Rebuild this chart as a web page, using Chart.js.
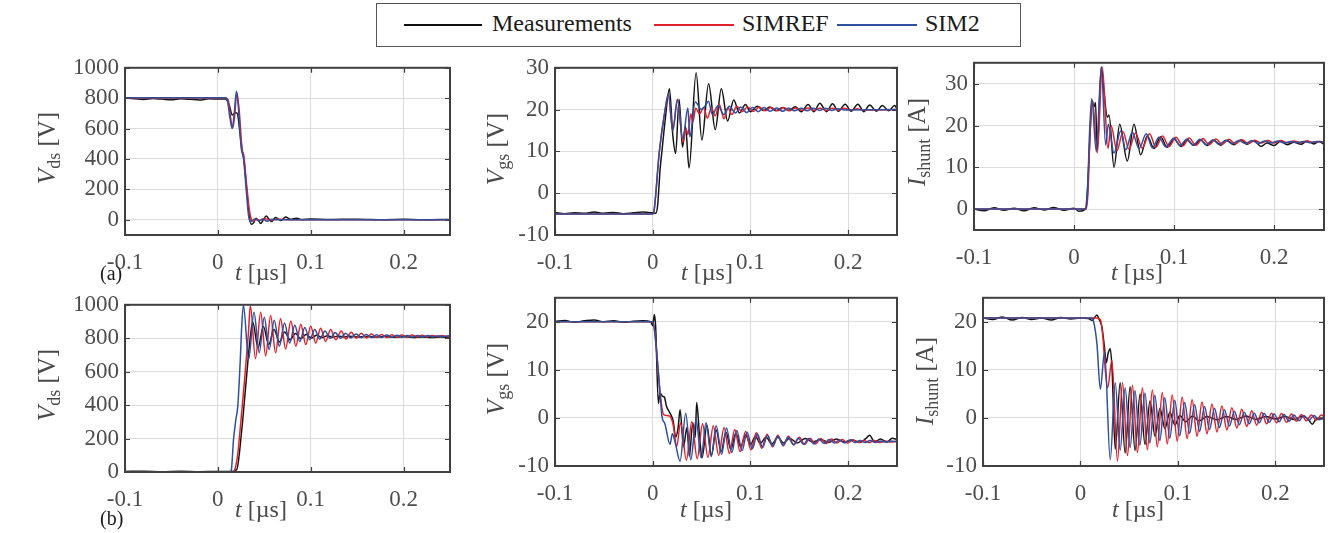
<!DOCTYPE html>
<html>
<head>
<meta charset="utf-8">
<script src="https://cdn.jsdelivr.net/npm/chart.js@4.4.0/dist/chart.umd.min.js"></script>
<style>
  body { margin: 0; width: 1332px; height: 533px; background: #fff; position: relative; overflow: hidden; font-family: "Liberation Serif", "Times New Roman", serif; }
  canvas { position: absolute; }
  #legend { position: absolute; left: 376px; top: 3px; width: 643px; height: 42px; border: 1px solid #555; }
  .swatch { position: absolute; height: 2px; top: 24px; }
  .lbl { position: absolute; top: 10px; font-size: 24px; line-height: 26px; color: #1a1a1a; }
  .xlab { position: absolute; font-size: 24px; line-height: 24px; color: #4a4a4a; transform: translateX(-50%); white-space: nowrap; }
  .ylab { position: absolute; font-size: 25px; line-height: 25px; color: #4a4a4a; transform: translate(-50%, -50%) rotate(-90deg); white-space: nowrap; }
  .sub { font-size: 18px; position: relative; top: 5px; line-height: 0; }
  .tag { position: absolute; font-size: 20px; line-height: 20px; color: #1a1a1a; }
</style>
</head>
<body>
<div id="legend"></div>
<div class="swatch" style="left:404px; width:78px; background:#111;"></div>
<div class="lbl" style="left:492px;">Measurements</div>
<div class="swatch" style="left:654px; width:80px; background:#e3202a;"></div>
<div class="lbl" style="left:742px;">SIMREF</div>
<div class="swatch" style="left:837px; width:80px; background:#2f4f9f;"></div>
<div class="lbl" style="left:925px;">SIM2</div>

<canvas id="a1"></canvas><canvas id="a2"></canvas><canvas id="a3"></canvas>
<canvas id="b1"></canvas><canvas id="b2"></canvas><canvas id="b3"></canvas>

<div class="xlab" style="left:261px; top:260px;"><i>t</i> [µs]</div>
<div class="xlab" style="left:707px; top:260px;"><i>t</i> [µs]</div>
<div class="xlab" style="left:1137px; top:260px;"><i>t</i> [µs]</div>
<div class="xlab" style="left:261px; top:497px;"><i>t</i> [µs]</div>
<div class="xlab" style="left:706px; top:497px;"><i>t</i> [µs]</div>
<div class="xlab" style="left:1138px; top:497px;"><i>t</i> [µs]</div>

<div class="ylab" style="left:46px; top:148px;"><i>V</i><span class="sub">ds</span> [V]</div>
<div class="ylab" style="left:495px; top:149px;"><i>V</i><span class="sub">gs</span> [V]</div>
<div class="ylab" style="left:916px; top:142px;"><i>I</i><span class="sub">shunt</span> [A]</div>
<div class="ylab" style="left:46px; top:385px;"><i>V</i><span class="sub">ds</span> [V]</div>
<div class="ylab" style="left:495px; top:379px;"><i>V</i><span class="sub">gs</span> [V]</div>
<div class="ylab" style="left:924px; top:381px;"><i>I</i><span class="sub">shunt</span> [A]</div>

<div class="tag" style="left:100px; top:263px;">(a)</div>
<div class="tag" style="left:100px; top:508px;">(b)</div>

<script>
// tick values
const tTicks = [-0.1, 0, 0.1, 0.2];
const vdsTicks = [0, 200, 400, 600, 800, 1000];
const vgsTicksA = [-10, 0, 10, 20, 30];
const ishTicksA = [0, 10, 20, 30];
const vgsTicksB = [-10, 0, 10, 20];
const ishTicksB = [-10, 0, 10, 20];

// (a) turn-off Vds  [t in us, value]
const measA_vds = [[-0.1,800],[-0.09,797],[-0.08,792],[-0.07,798],[-0.06,794],[-0.05,789],[-0.04,796],[-0.03,793],[-0.02,788],[-0.01,796],[0,795],[0.008,795],[0.012,760],[0.0155,690],[0.019,705],[0.021,700],[0.024,560],[0.0265,440],[0.028,400],[0.031,200],[0.034,20],[0.036,-30],[0.039,-15],[0.041,10],[0.044,-5],[0.046,-25],[0.049,0],[0.052,25],[0.055,5],[0.058,-12],[0.062,15],[0.065,5],[0.068,-5],[0.073,18],[0.078,3],[0.085,10],[0.09,2],[0.1,5],[0.12,2],[0.15,4],[0.18,1],[0.2,3],[0.22,0],[0.25,2]];
const simrefA_vds = [[-0.1,802],[0.008,802],[0.011,790],[0.0135,680],[0.016,605],[0.018,680],[0.0205,835],[0.023,720],[0.026,470],[0.028,420],[0.031,230],[0.034,60],[0.036,5],[0.038,-10],[0.041,5],[0.045,-5],[0.05,8],[0.056,-3],[0.065,3],[0.08,0],[0.25,0]];
const sim2A_vds = [[-0.1,803],[0.008,803],[0.0105,780],[0.013,670],[0.0155,600],[0.0175,690],[0.02,845],[0.0225,710],[0.025,480],[0.0275,410],[0.0305,200],[0.033,30],[0.035,-15],[0.037,-5],[0.04,5],[0.044,-8],[0.048,5],[0.053,-10],[0.058,3],[0.065,0],[0.25,0]];

// (a) turn-off Vgs
const measA_vgs = [[-0.1,-4.6],[-0.09,-4.9],[-0.08,-4.7],[-0.07,-4.8],[-0.06,-4.5],[-0.05,-4.8],[-0.04,-4.6],[-0.03,-4.9],[-0.02,-4.7],[-0.01,-4.5],[0,-4.7],[0.003,-4.8],[0.005,-3],[0.0076,5.8],[0.0093,9.7],[0.0127,17.4],[0.0171,25],[0.0205,14],[0.0235,9.5],[0.027,22.5],[0.0305,11],[0.0335,16],[0.0372,6],[0.0444,28.8],[0.0503,12.7],[0.0572,26.2],[0.064,15.2],[0.0702,25],[0.0767,17.3],[0.0829,22.3],[0.0887,19.2],[0.0949,21.2],[0.1,19.5],[0.107,20.8],[0.113,19.8],[0.12,20.6],[0.126,19.7],[0.133,20.5],[0.139,19.8],[0.146,20.7],[0.152,19.5],[0.159,21.2],[0.165,19.5],[0.171,21.5],[0.178,19.5],[0.184,21.4],[0.19,19.6],[0.197,21.3],[0.203,19.6],[0.21,21.3],[0.216,19.5],[0.222,21.1],[0.229,19.6],[0.235,21],[0.2415,19.7],[0.2475,21],[0.25,20.2]];
const simrefA_vgs = [[-0.1,-5],[0,-5],[0.0015,-4],[0.0068,10],[0.0127,20],[0.016,23.5],[0.0205,15],[0.0253,22.5],[0.031,12.2],[0.034,15.5],[0.036,14],[0.039,19],[0.041,17],[0.044,20.3],[0.048,19],[0.052,20.5],[0.056,18],[0.06,20.4],[0.064,18.5],[0.068,21.3],[0.073,17.8],[0.077,20.5],[0.081,18.8],[0.086,20.8],[0.091,19.5],[0.097,20.6],[0.103,19.6],[0.109,20.6],[0.115,19.7],[0.121,20.5],[0.128,19.7],[0.134,20.5],[0.14,19.7],[0.146,20.4],[0.153,19.8],[0.159,20.4],[0.165,19.8],[0.171,20.3],[0.178,19.8],[0.184,20.3],[0.19,19.9],[0.196,20.3],[0.203,19.9],[0.209,20.2],[0.215,19.9],[0.25,20]];
const sim2A_vgs = [[-0.1,-5],[0,-5],[0.0015,-4],[0.0068,10],[0.0127,20],[0.0161,23.8],[0.0205,15],[0.0253,22.3],[0.0308,13],[0.036,20.4],[0.038,13.5],[0.0435,21.8],[0.05,20],[0.054,21],[0.057,22],[0.061,18.8],[0.067,21],[0.0726,18.8],[0.0785,20.8],[0.0846,19.2],[0.09,20.6],[0.096,19.3],[0.102,20.5],[0.108,19.5],[0.114,20.5],[0.12,19.6],[0.127,20.4],[0.133,19.6],[0.139,20.4],[0.145,19.7],[0.152,20.3],[0.158,19.7],[0.164,20.3],[0.171,19.8],[0.177,20.3],[0.183,19.8],[0.19,20.2],[0.196,19.9],[0.25,20]];

// (a) turn-off Ishunt
const measA_ish = [[-0.1,0],[-0.09,-0.4],[-0.08,0.3],[-0.07,-0.3],[-0.06,0.2],[-0.05,-0.4],[-0.04,0.3],[-0.03,-0.2],[-0.02,0.4],[-0.01,-0.3],[0,0.2],[0.005,-0.5],[0.0115,0],[0.0135,5],[0.0165,20],[0.018,26],[0.02,24.5],[0.0215,25.5],[0.0232,14],[0.0273,34],[0.03,28],[0.0333,22],[0.035,22.5],[0.04,10],[0.0457,20.3],[0.0533,11.5],[0.06,20.3],[0.0667,13],[0.0733,17.5],[0.08,14.5],[0.0867,17.3],[0.093,14.8],[0.1,16.8],[0.107,15],[0.113,16.5],[0.12,15.3],[0.127,16.6],[0.133,15.2],[0.14,16.4],[0.147,15.3],[0.153,16.5],[0.16,15.4],[0.167,16.6],[0.173,15.5],[0.18,16.4],[0.187,15],[0.193,15.8],[0.2,15.2],[0.207,16.3],[0.213,15.4],[0.22,16],[0.227,15.5],[0.233,16.3],[0.24,15.6],[0.245,16.2],[0.25,15.5]];
const simrefA_ish = [[-0.1,0],[0.012,0],[0.014,4],[0.016,18],[0.0185,26],[0.0233,13.4],[0.0283,34],[0.034,14.5],[0.037,20],[0.043,14],[0.049,18.5],[0.055,14.3],[0.0615,18.2],[0.068,14.6],[0.0755,18],[0.082,14.8],[0.0885,17.5],[0.095,15],[0.102,17.2],[0.109,15.1],[0.115,17],[0.122,15.3],[0.129,16.9],[0.135,15.4],[0.142,16.8],[0.148,15.5],[0.155,16.7],[0.161,15.6],[0.168,16.6],[0.174,15.7],[0.181,16.5],[0.187,15.8],[0.194,16.4],[0.2,15.8],[0.207,16.4],[0.213,15.9],[0.22,16.3],[0.226,15.9],[0.233,16.3],[0.239,16],[0.246,16.2],[0.25,16.1]];
const sim2A_ish = [[-0.1,0],[0.0117,0],[0.0135,4],[0.0155,18],[0.0177,26.4],[0.0223,13.8],[0.0273,34],[0.0317,15.3],[0.0343,20.3],[0.04,13.4],[0.0467,18.7],[0.0517,14.2],[0.0583,18.4],[0.065,14.5],[0.0723,18],[0.0783,14.7],[0.085,17.2],[0.0917,14.9],[0.1,17],[0.106,15.2],[0.113,16.8],[0.119,15.3],[0.126,16.7],[0.132,15.4],[0.139,16.6],[0.145,15.5],[0.152,16.5],[0.158,15.6],[0.165,16.4],[0.171,15.7],[0.178,16.4],[0.184,15.7],[0.191,16.3],[0.197,15.8],[0.204,16.3],[0.21,15.8],[0.217,16.2],[0.223,15.9],[0.23,16.2],[0.236,15.9],[0.243,16.2],[0.25,16]];

// (b) turn-on Vds
const measB_vds = [[-0.1,3],[-0.08,5],[-0.06,2],[-0.04,4],[-0.02,2],[0,3],[0.015,3],[0.0204,16],[0.0257,248],[0.0304,539],[0.0346,790],[0.0375,897],[0.0433,742],[0.049,870],[0.0548,762],[0.0605,852],[0.0663,778],[0.072,838],[0.0778,790],[0.0835,828],[0.0893,798],[0.095,822],[0.1008,802],[0.1065,818],[0.1123,805],[0.118,815],[0.1238,806],[0.1295,813],[0.1353,807],[0.141,812],[0.15,808],[0.16,811],[0.17,807],[0.18,810],[0.19,806],[0.2,809],[0.21,805],[0.22,808],[0.23,804],[0.24,807],[0.25,803]];
const simrefB_vds = [[-0.1,0],[0.0165,0],[0.0193,35],[0.0215,110],[0.0239,248],[0.0286,539],[0.0329,830],[0.035,994],[0.0405,678],[0.0461,955],[0.0515,694],[0.0568,936],[0.0622,713],[0.0675,917],[0.073,736],[0.0786,903],[0.084,752],[0.0893,884],[0.0947,762],[0.1,872],[0.1054,771],[0.1107,860],[0.116,781],[0.1214,853],[0.127,791],[0.1329,843],[0.138,795],[0.1436,836],[0.149,800],[0.1545,830],[0.16,802],[0.1654,826],[0.1709,804],[0.1763,823],[0.1818,805],[0.1872,821],[0.1927,806],[0.1981,820],[0.2036,807],[0.209,819],[0.2145,808],[0.2199,818],[0.2254,808],[0.2308,817],[0.2363,809],[0.2417,816],[0.2472,809],[0.25,812]];
const sim2B_vds = [[-0.1,0],[0.0125,0],[0.0145,12],[0.0168,190],[0.0193,310],[0.0214,390],[0.0239,640],[0.0257,870],[0.0275,998],[0.0332,674],[0.0389,955],[0.0445,713],[0.05,926],[0.0553,733],[0.0607,907],[0.0662,752],[0.0718,891],[0.0773,771],[0.0829,878],[0.0883,781],[0.0936,864],[0.099,791],[0.1043,852],[0.1098,795],[0.1154,843],[0.1209,798],[0.1264,835],[0.132,800],[0.1375,830],[0.143,802],[0.1489,826],[0.1544,803],[0.1599,823],[0.1654,804],[0.171,821],[0.1765,805],[0.182,819],[0.1875,806],[0.193,818],[0.1985,807],[0.204,817],[0.2095,807],[0.215,816],[0.2205,808],[0.226,816],[0.2315,808],[0.237,815],[0.2425,809],[0.248,815],[0.25,813]];

// (b) turn-on Vgs
const measB_vgs = [[-0.1,20.1],[-0.09,20.3],[-0.08,19.9],[-0.07,20.2],[-0.06,20.4],[-0.05,20],[-0.04,20.2],[-0.03,19.9],[-0.02,20.1],[-0.01,20.2],[-0.002,20],[0,19.2],[0.0017,21.5],[0.003,19],[0.0058,3],[0.0075,5.2],[0.01,4.5],[0.012,4.3],[0.014,2.5],[0.0177,1],[0.021,-0.7],[0.0235,-4],[0.026,-2],[0.028,1.7],[0.0315,-6],[0.035,-2],[0.0375,-8],[0.041,-1],[0.0435,-4],[0.045,3.2],[0.048,-4],[0.0505,-8.3],[0.0555,-1.5],[0.06,-7.8],[0.065,-2.5],[0.07,-7],[0.075,-3],[0.08,-6.5],[0.085,-3.2],[0.09,-6],[0.095,-3.5],[0.1,-5.6],[0.105,-3.8],[0.11,-5.3],[0.116,-4],[0.122,-5.4],[0.128,-4],[0.134,-5.2],[0.14,-4.2],[0.148,-5.2],[0.156,-4.3],[0.164,-5],[0.172,-4.5],[0.18,-5.1],[0.188,-4.4],[0.196,-5],[0.204,-4.6],[0.212,-5.1],[0.218,-4.3],[0.222,-3.6],[0.227,-5],[0.233,-4.4],[0.24,-5],[0.245,-4.2],[0.25,-4.5]];
const simrefB_vgs = [[-0.1,20],[0,20],[0.002,18],[0.0075,5.3],[0.011,0.7],[0.014,0.5],[0.0177,0.3],[0.021,-1.5],[0.0245,-6],[0.0285,-1],[0.0345,-8.8],[0.04,-0.8],[0.0455,-8.5],[0.051,-1.2],[0.0565,-8.2],[0.062,-1.6],[0.0675,-7.8],[0.073,-2],[0.0785,-7.4],[0.084,-2.4],[0.0895,-7],[0.095,-2.8],[0.1005,-6.6],[0.106,-3.1],[0.1115,-6.3],[0.117,-3.4],[0.1225,-6],[0.128,-3.6],[0.1335,-5.8],[0.139,-3.8],[0.1445,-5.6],[0.15,-4],[0.1555,-5.5],[0.161,-4.2],[0.1665,-5.4],[0.172,-4.3],[0.1775,-5.3],[0.183,-4.4],[0.1885,-5.2],[0.194,-4.5],[0.1995,-5.2],[0.205,-4.6],[0.2105,-5.1],[0.216,-4.7],[0.2215,-5.1],[0.227,-4.7],[0.2325,-5.1],[0.238,-4.8],[0.2435,-5],[0.25,-4.8]];
const sim2B_vgs = [[-0.1,20],[0,20],[0.002,18],[0.0075,5.3],[0.0092,0.7],[0.0126,-1.3],[0.0177,-5.5],[0.0201,-3.3],[0.0229,-5],[0.028,-9],[0.0338,1],[0.039,-8.7],[0.0444,-0.3],[0.0495,-8.3],[0.0546,-1],[0.06,-8],[0.065,-1.6],[0.0705,-7.6],[0.0755,-2.1],[0.081,-7.2],[0.086,-2.6],[0.0915,-6.8],[0.0965,-3],[0.102,-6.4],[0.107,-3.3],[0.1125,-6.1],[0.1175,-3.6],[0.123,-5.9],[0.128,-3.8],[0.1335,-5.7],[0.1385,-4],[0.144,-5.6],[0.149,-4.2],[0.1545,-5.5],[0.1595,-4.3],[0.165,-5.4],[0.17,-4.4],[0.1755,-5.3],[0.1805,-4.5],[0.186,-5.2],[0.191,-4.6],[0.1965,-5.2],[0.2015,-4.6],[0.207,-5.1],[0.212,-4.7],[0.2175,-5.1],[0.2225,-4.7],[0.228,-5.1],[0.233,-4.8],[0.2385,-5],[0.2435,-4.8],[0.25,-5]];

// (b) turn-on Ishunt
const measB_ish = [[-0.1,20.8],[-0.09,20.5],[-0.08,21],[-0.07,20.4],[-0.06,20.9],[-0.05,20.5],[-0.04,20.8],[-0.03,20.4],[-0.02,20.9],[-0.01,20.6],[0,20.8],[0.008,20.7],[0.012,20.3],[0.0145,20.9],[0.017,21.4],[0.019,20.6],[0.022,19],[0.0245,15],[0.0265,11.5],[0.0285,13.5],[0.0306,14.4],[0.0325,10],[0.0357,-6.5],[0.0408,7.3],[0.0459,-7.3],[0.051,6.5],[0.0561,-6.8],[0.0612,5],[0.0663,-5.5],[0.0714,3.5],[0.0765,-3.8],[0.0816,2],[0.0867,-2.2],[0.0918,1.2],[0.097,-1.5],[0.102,0.5],[0.108,-0.8],[0.115,0.4],[0.122,-0.6],[0.13,0.3],[0.14,-0.4],[0.15,0.3],[0.16,-0.3],[0.17,0.4],[0.18,-0.3],[0.19,0.3],[0.2,-0.2],[0.21,0.3],[0.22,-0.3],[0.228,0.4],[0.234,-0.3],[0.238,-1.3],[0.242,-0.2],[0.246,0],[0.25,-0.3]];
const simrefB_ish = [[-0.1,20.8],[0.016,20.8],[0.0204,20.5],[0.023,17],[0.0255,10],[0.028,6.3],[0.0323,12],[0.038,-9],[0.0432,7.3],[0.0483,-7.8],[0.0534,6.8],[0.0585,-7.2],[0.0636,6.3],[0.0687,-6.6],[0.0738,5.8],[0.0789,-6],[0.084,5.3],[0.0891,-5.4],[0.0942,4.8],[0.0993,-4.8],[0.1044,4.3],[0.1095,-4.3],[0.1146,3.8],[0.1197,-3.8],[0.1248,3.3],[0.1299,-3.3],[0.135,2.9],[0.1401,-2.9],[0.1452,2.5],[0.1503,-2.5],[0.1554,2.1],[0.1605,-2.1],[0.1656,1.8],[0.1707,-1.8],[0.1758,1.5],[0.1809,-1.5],[0.186,1.2],[0.1911,-1.2],[0.1962,1],[0.2013,-1],[0.2064,0.9],[0.2115,-0.9],[0.2166,0.8],[0.2217,-0.7],[0.2268,0.7],[0.2319,-0.6],[0.237,0.6],[0.2421,-0.5],[0.2472,0.6],[0.25,0.3]];
const sim2B_ish = [[-0.1,20.8],[0.0115,20.8],[0.0136,20],[0.017,15.3],[0.0204,6],[0.0248,13.7],[0.0306,-8.7],[0.0357,7.3],[0.0408,-6.7],[0.0459,6.3],[0.051,-6.2],[0.056,5.7],[0.061,-5.7],[0.0662,5.2],[0.0713,-5.2],[0.0764,4.7],[0.0815,-4.7],[0.0866,4.2],[0.0917,-4.2],[0.0968,3.7],[0.1019,-3.7],[0.107,3.2],[0.1121,-3.2],[0.1172,2.8],[0.1223,-2.8],[0.1274,2.4],[0.1325,-2.4],[0.1376,2],[0.1427,-2],[0.1478,1.7],[0.1529,-1.7],[0.158,1.4],[0.1631,-1.4],[0.1682,1.2],[0.1733,-1.2],[0.1784,1],[0.1835,-1],[0.1886,0.9],[0.1937,-0.9],[0.1988,0.8],[0.2039,-0.8],[0.209,0.7],[0.2141,-0.7],[0.2192,0.6],[0.2243,-0.6],[0.2294,0.5],[0.2345,-0.5],[0.2396,0.5],[0.2447,-0.4],[0.25,0.2]];

// panel layout: plot box [left, top, right, bottom] in page pixels
const panels = [
  { id: 'a1', box: [125, 62, 450, 235], yMin: -100, yMax: 1000, yTicks: vdsTicks, series: [measA_vds, simrefA_vds, sim2A_vds] },
  { id: 'a2', box: [555, 62, 897, 235], yMin: -10, yMax: 30, yTicks: vgsTicksA, series: [measA_vgs, simrefA_vgs, sim2A_vgs] },
  { id: 'a3', box: [974, 57, 1324, 230], yMin: -5, yMax: 35, yTicks: ishTicksA, series: [measA_ish, simrefA_ish, sim2A_ish] },
  { id: 'b1', box: [125, 299, 450, 472], yMin: 0, yMax: 1000, yTicks: vdsTicks, series: [measB_vds, simrefB_vds, sim2B_vds] },
  { id: 'b2', box: [555, 292, 897, 466], yMin: -10, yMax: 25, yTicks: vgsTicksB, series: [measB_vgs, simrefB_vgs, sim2B_vgs] },
  { id: 'b3', box: [983, 292, 1324, 466], yMin: -10, yMax: 25, yTicks: ishTicksB, series: [measB_ish, simrefB_ish, sim2B_ish] },
];

const names = ['Measurements', 'SIMREF', 'SIM2'];
const colors = ['#151515', '#e3202a', '#2f4f9f'];
const AXW = 70, AXH = 42, PADT = 14, PADR = 8;
const tickFont = { family: 'Liberation Serif', size: 23 };

// box + inward tick marks, matlab style
const framePlugin = {
  id: 'frame',
  afterDatasetsDraw(chart) {
    const { ctx, chartArea: a, scales } = chart;
    const tl = 5;
    ctx.save();
    ctx.strokeStyle = '#404040';
    ctx.lineWidth = 1.2;
    ctx.beginPath();
    scales.x.ticks.forEach(t => {
      const px = Math.round(scales.x.getPixelForValue(t.value)) + 0.5;
      ctx.moveTo(px, a.bottom); ctx.lineTo(px, a.bottom - tl);
      ctx.moveTo(px, a.top); ctx.lineTo(px, a.top + tl);
    });
    scales.y.ticks.forEach(t => {
      const py = Math.round(scales.y.getPixelForValue(t.value)) + 0.5;
      ctx.moveTo(a.left, py); ctx.lineTo(a.left + tl, py);
      ctx.moveTo(a.right, py); ctx.lineTo(a.right - tl, py);
    });
    ctx.stroke();
    ctx.lineWidth = 2;
    ctx.strokeRect(a.left, a.top, a.right - a.left, a.bottom - a.top);
    ctx.restore();
  }
};

function drawPanels() {
  panels.forEach(p => {
    const [l, t, r, b] = p.box;
    const cv = document.getElementById(p.id);
    cv.width = (r - l) + AXW + PADR;
    cv.height = (b - t) + PADT + AXH;
    cv.style.left = (l - AXW) + 'px';
    cv.style.top = (t - PADT) + 'px';

    new Chart(cv, {
      type: 'line',
      data: {
        datasets: p.series.map((s, i) => ({
          label: names[i],
          data: s.map(([x, y]) => ({ x, y })),
          borderColor: colors[i],
          borderWidth: 1.5,
          pointRadius: 0,
          cubicInterpolationMode: 'monotone',
          order: 3 - i,
        }))
      },
      options: {
        responsive: false,
        animation: false,
        devicePixelRatio: 1,
        layout: { padding: { top: PADT, right: PADR, left: 0, bottom: 0 } },
        plugins: { legend: { display: false }, tooltip: { enabled: false } },
        scales: {
          x: {
            type: 'linear', min: -0.1, max: 0.25,
            afterFit: s => { s.height = AXH; },
            afterBuildTicks: s => { s.ticks = tTicks.map(v => ({ value: v })); },
            grid: { color: '#dcdcdc', lineWidth: 1, drawTicks: false },
            border: { display: false },
            ticks: { font: tickFont, color: '#4d4d4d', padding: 14, autoSkip: false, maxRotation: 0,
                     callback: v => String(Math.round(v * 10) / 10) }
          },
          y: {
            type: 'linear', min: p.yMin, max: p.yMax,
            afterFit: s => { s.width = AXW; },
            afterBuildTicks: s => { s.ticks = p.yTicks.map(v => ({ value: v })); },
            grid: { color: '#dcdcdc', lineWidth: 1, drawTicks: false },
            border: { display: false },
            ticks: { font: tickFont, color: '#4d4d4d', padding: 6, autoSkip: false, callback: v => String(v) }
          }
        }
      },
      plugins: [framePlugin]
    });
  });
}

if (document.fonts && document.fonts.load) {
  document.fonts.load('23px "Liberation Serif"').then(drawPanels, drawPanels);
} else {
  drawPanels();
}
</script>
</body>
</html>
